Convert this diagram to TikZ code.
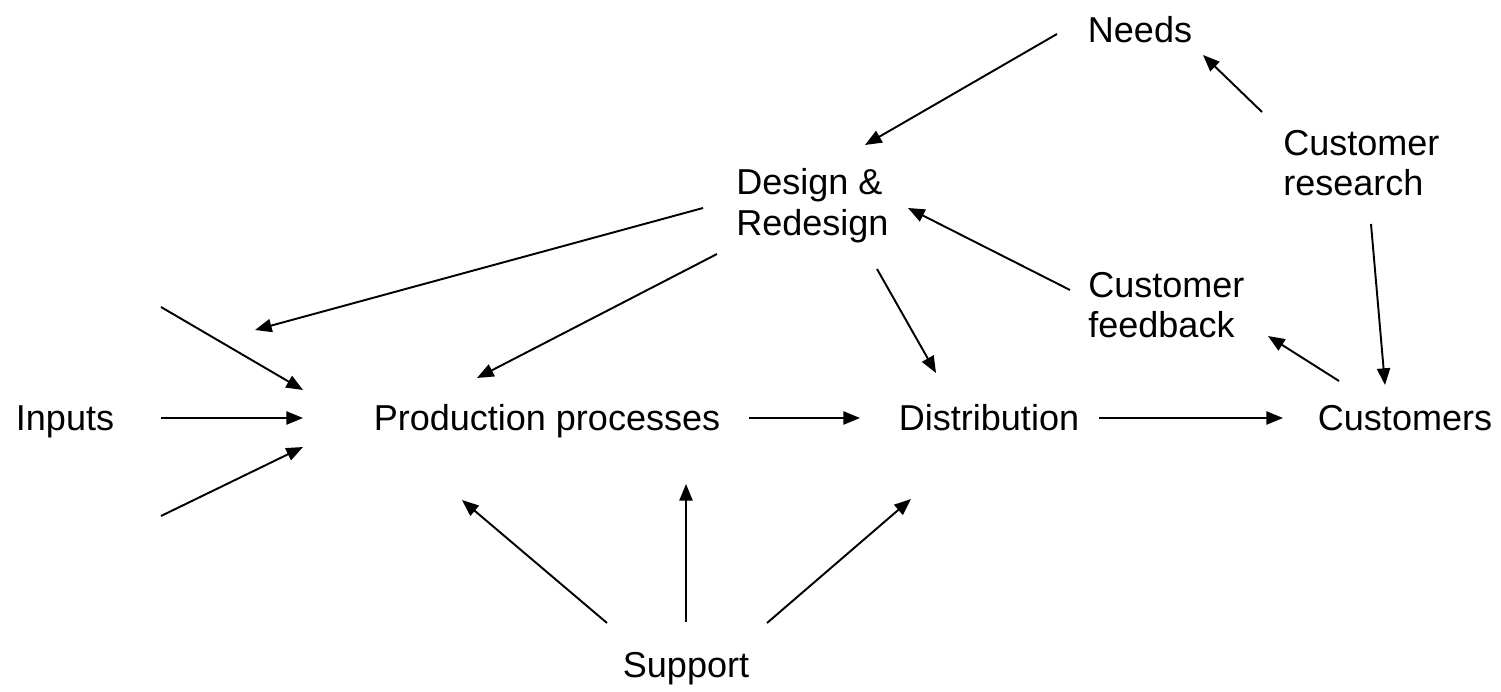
\documentclass[tikz,border=0pt]{standalone}
\usepackage{fontspec}
\setmainfont{Liberation Sans}
\usepackage{tikz}
\usetikzlibrary{positioning, arrows.meta, calc}
\tikzset{label/.style={
    inner sep=0pt,
    align=left,
    font=\fontsize{20.5}{23.2}\selectfont
}}
\tikzset{flow/.style={
    ->,
    line width=1.1pt
}}

\begin{document}
\begin{tikzpicture}[
    x=0.02cm, y=-0.02cm,
    >={Triangle[length=9.5pt, width=7.5pt]},
]
    \useasboundingbox (0,0) rectangle (1501,692);
    % Nodes
    \node (needs)    [label, anchor=base] at (1140, 43) {Needs};
    \node (research) [label, anchor=west] at (1283, 163) {Customer\\research};
    \node (design)   [label, anchor=west] at (736, 206) {Design \&\\Redesign};
    \node (feedback) [label, anchor=west] at (1088, 305) {Customer\\feedback};
    \node (inputs)   [label, anchor=base] at (65, 431) {Inputs};
    \node (prod)     [label, anchor=base] at (547, 431) {Production processes};
    \node (distr)    [label, anchor=base] at (989, 431) {Distribution};
    \node (cust)     [label, anchor=base] at (1405, 431) {Customers};
    \node (support)  [label, anchor=base] at (686, 677) {Support};
    % Free ends
    \coordinate (needsW)   at (1057, 34);
    \coordinate (designNE) at (865, 145);
    \coordinate (resNW)    at (1262, 112);
    \coordinate (needsSE)  at (1203, 55);
    \coordinate (resS)     at (1371, 224);
    \coordinate (custN)    at (1385, 385);
    \coordinate (custNW)   at (1339, 381);
    \coordinate (fbSE)     at (1268, 336);
    \coordinate (fbW)      at (1070, 290);
    \coordinate (designE)  at (908, 208);
    \coordinate (designW)  at (703, 208);
    \coordinate (designSW) at (717, 254);
    \coordinate (designS)  at (877, 269);
    \coordinate (upper)    at (255, 330);
    \coordinate (prodNW)   at (477, 378);
    \coordinate (distrN)   at (936, 373);
    \coordinate (in1)      at (161, 307);
    \coordinate (in2)      at (161, 418);
    \coordinate (in3)      at (161, 516);
    \coordinate (mix1)     at (303, 390);
    \coordinate (mix2)     at (303, 418);
    \coordinate (mix3)     at (303, 447);
    \coordinate (prodE)    at (749, 418);
    \coordinate (distrW)   at (860, 418);
    \coordinate (distrE)   at (1099, 418);
    \coordinate (custW)    at (1283, 418);
    \coordinate (supNW)    at (607, 623);
    \coordinate (prodSW)   at (462, 500);
    \coordinate (supN)     at (686, 622);
    \coordinate (prodS)    at (686, 484);
    \coordinate (supNE)    at (767, 623);
    \coordinate (distrSW)  at (911, 499);
    % Connectors
    \draw [flow] (needsW) -- (designNE);
    \draw [flow] (resNW) -- (needsSE);
    \draw [flow] (resS) -- (custN);
    \draw [flow] (custNW) -- (fbSE);
    \draw [flow] (fbW) -- (designE);
    \draw [flow] (designW) -- (upper);
    \draw [flow] (designSW) -- (prodNW);
    \draw [flow] (designS) -- (distrN);
    \draw [flow] (in1) -- (mix1);
    \draw [flow] (in2) -- (mix2);
    \draw [flow] (in3) -- (mix3);
    \draw [flow] (prodE) -- (distrW);
    \draw [flow] (distrE) -- (custW);
    \draw [flow] (supNW) -- (prodSW);
    \draw [flow] (supN) -- (prodS);
    \draw [flow] (supNE) -- (distrSW);
\end{tikzpicture}
\end{document}
